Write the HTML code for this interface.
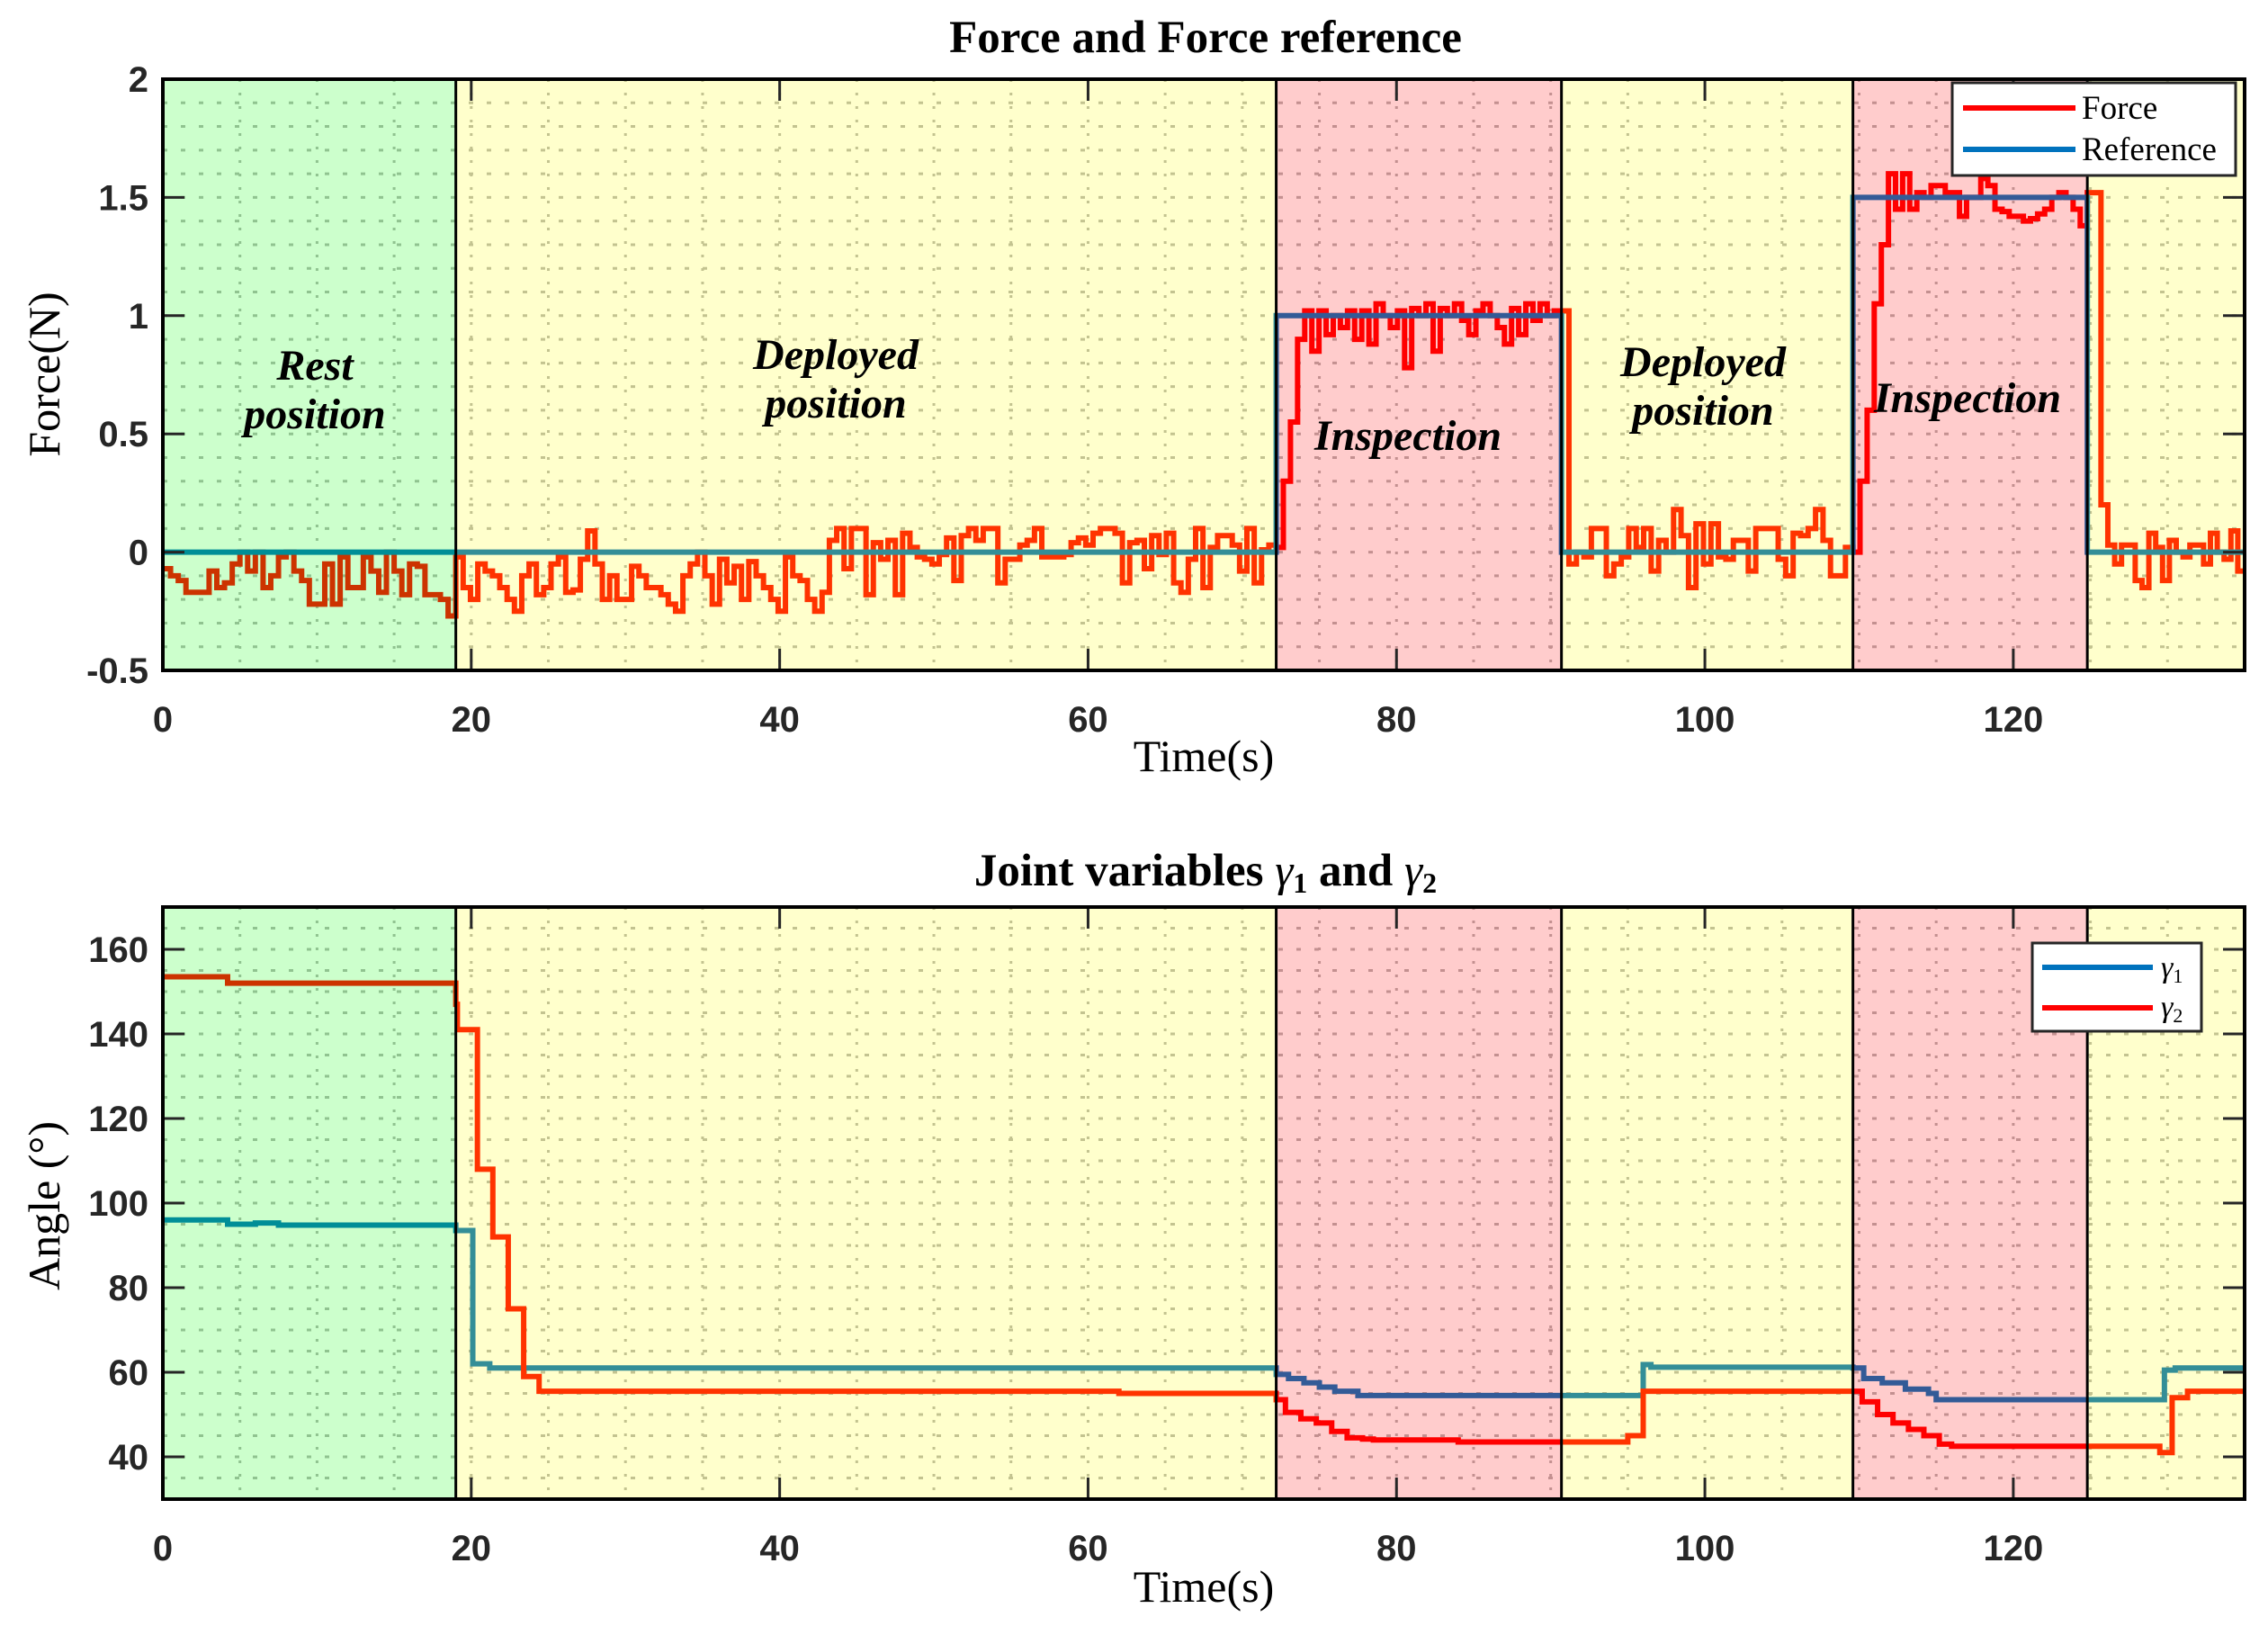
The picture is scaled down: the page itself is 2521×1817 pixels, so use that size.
<!DOCTYPE html>
<html><head><meta charset="utf-8">
<style>
html,body{margin:0;padding:0;background:#fff;}
svg{display:block;}
</style></head>
<body>
<svg id="chart" width="2521" height="1817" viewBox="0 0 2521 1817" xmlns="http://www.w3.org/2000/svg"></svg>
<script>
// ---------- DATA ----------
const phaseBounds = [0, 19, 72.2, 90.7, 109.6, 124.8, 135];
const phaseColors = ["#00ff00", "#ffff00", "#ff0000", "#ffff00", "#ff0000", "#ffff00"];
const xTicks = [0, 20, 40, 60, 80, 100, 120];
const forceYTicks = [-0.5, 0, 0.5, 1, 1.5, 2];
const forceYTickLabels = ["-0.5", "0", "0.5", "1", "1.5", "2"];
const angleYTicks = [40, 60, 80, 100, 120, 140, 160];

const forceRest = [-0.07,-0.1,-0.12,-0.17,-0.17,-0.17,-0.08,-0.15,-0.13,-0.05,0,-0.08,0,-0.15,-0.1,-0.02,0,-0.08,-0.12,-0.22,-0.22,-0.05,-0.22,-0.02,-0.15,-0.15,-0.02,-0.08,-0.17,0,-0.08,-0.18,-0.05,-0.06,-0.18,-0.18,-0.2,-0.27];
const forceDeploy1 = [-0.02,-0.15,-0.2,-0.05,-0.08,-0.1,-0.15,-0.2,-0.25,-0.1,-0.05,-0.18,-0.15,-0.05,-0.02,-0.17,-0.16,-0.03,0.09,-0.05,-0.2,-0.1,-0.2,-0.2,-0.06,-0.1,-0.15,-0.15,-0.18,-0.22,-0.25,-0.1,-0.05,0,-0.1,-0.22,-0.03,-0.13,-0.06,-0.2,-0.04,-0.1,-0.15,-0.2,-0.25,-0.02,-0.1,-0.12,-0.2,-0.25,-0.17,0.05,0.1,-0.07,0.1,0.1,-0.18,0.04,-0.03,0.05,-0.18,0.08,0.02,-0.02,-0.03,-0.05,-0.01,0.06,-0.12,0.07,0.1,0.05,0.1,0.1,-0.13,-0.03,-0.03,0.03,0.05,0.1,-0.02,-0.02,-0.02,-0.01,0.04,0.06,0.03,0.08,0.1,0.1,0.08,-0.13,0.04,0.05,-0.07,0.07,-0.01,0.08,-0.13,-0.17,-0.03,0.1,-0.15,0.02,0.07,0.07,0.03,-0.08,0.1,-0.13,0.01,0.03];
const forceInsp1 = [0.02,0.3,0.55,0.9,1.02,0.85,1.02,0.92,1.0,0.95,1.02,0.9,1.02,0.88,1.05,1.0,0.95,1.02,0.78,1.03,1.0,1.05,0.85,1.03,1.0,1.05,0.98,0.92,1.02,1.05,1.0,0.95,0.88,1.03,0.92,1.05,0.98,1.05,1.0,1.02];
const forceDeploy2 = [1.02,-0.05,0,-0.02,0.1,0.1,-0.1,-0.05,-0.02,0.1,0.02,0.1,-0.08,0.05,0,0.18,0.07,-0.15,0.12,-0.05,0.12,-0.02,-0.03,0.05,0.05,-0.08,0.1,0.1,0.1,-0.03,-0.1,0.08,0.07,0.1,0.18,0.05,-0.1,-0.1,0.02];
const forceInsp2 = [0,0.3,0.6,1.05,1.3,1.6,1.45,1.6,1.45,1.52,1.5,1.55,1.55,1.52,1.52,1.42,1.5,1.5,1.58,1.55,1.45,1.44,1.42,1.42,1.4,1.41,1.43,1.45,1.5,1.52,1.5,1.45,1.38];
const forceDeploy3 = [1.52,1.52,0.2,0.03,-0.05,0.03,0.03,-0.12,-0.15,0.08,0.02,-0.12,0.05,0,-0.02,0.03,0.03,-0.05,0.08,0,-0.03,0.09,-0.08];
const forcePhases = [forceRest, forceDeploy1, forceInsp1, forceDeploy2, forceInsp2, forceDeploy3];

const refTimes = [0, 72.2, 90.7, 109.6, 124.8];
const refValues = [0, 1, 0, 1.5, 0];

const g1Times = [0,4.2,6,7.5,19,20.1,21.2,72.2,73,74,75,76,77.5,96,96.5,109.6,110.3,111.5,113,114.5,115,129.8,130.5,135];
const g1Values = [96,95,95.3,94.8,93.5,62,61,59.5,58.5,57.5,56.5,55.5,54.5,61.8,61.2,61,58.5,57.5,56,55,53.5,60.5,61,61];
const g2Times = [0,4.2,19,19.1,20.4,21.4,22.4,23.4,24.4,62,72.2,72.8,73.8,74.8,75.8,76.8,77.8,78.5,84,95,96,109.6,110.2,111.2,112.2,113.2,114.2,115.2,116,129.5,130.3,131.3,135];
const g2Values = [153.5,152,147,141,108,92,75,59,55.5,55,53.5,50.5,49,48,46,44.5,44.2,44,43.5,45,55.5,55.5,53,50,48,46.5,45,43,42.5,41,54,55.5,55.5];

// ---------- LAYOUT ----------
const svg = document.getElementById('chart');
const NS = "http://www.w3.org/2000/svg";
function mk(tag, attrs, parent){ const e=document.createElementNS(NS,tag); for(const k in attrs) e.setAttribute(k,attrs[k]); (parent||svg).appendChild(e); return e; }

const L=181, R=2495;
const P1={top:88, bottom:745, ymin:-0.5, ymax:2};
const P2={top:1008, bottom:1666, ymin:30, ymax:170};
const xmin=0, xmax=135;
const xs = t => L + (t-xmin)/(xmax-xmin)*(R-L);
function ys(P){ return v => P.bottom - (v-P.ymin)/(P.ymax-P.ymin)*(P.bottom-P.top); }

function grid(P, yStep, name){
  const g = mk('g',{});
  
  
  const y=ys(P);
  for(let t=5;t<xmax;t+=5){
    mk('line',{x1:xs(t),x2:xs(t),y1:P.top,y2:P.bottom,stroke:"#b4b4b4","stroke-width":3,"stroke-dasharray":"3 12"},g);
  }
  const n=Math.round((P.ymax-P.ymin)/yStep);
  for(let i=1;i<n;i++){
    const v=P.ymin+i*yStep;
    mk('line',{x1:L,x2:R,y1:y(v),y2:y(v),stroke:"#b4b4b4","stroke-width":3,"stroke-dasharray":"5 15"},g);
  }
}
function stepPath(times, vals, endT, y){
  let d="M"+xs(times[0])+","+y(vals[0]);
  for(let i=1;i<times.length;i++){ d+=" H"+xs(times[i])+" V"+y(vals[i]); }
  d+=" H"+xs(endT);
  return d;
}
function overlays(P, name){
  for(let i=0;i<phaseColors.length;i++){
    const r=mk('rect',{x:xs(phaseBounds[i]),y:P.top,width:xs(phaseBounds[i+1])-xs(phaseBounds[i]),height:P.bottom-P.top,fill:phaseColors[i],"fill-opacity":0.2});
    
    
  }
  for(let i=1;i<phaseBounds.length-1;i++){
    const l=mk('line',{x1:xs(phaseBounds[i]),x2:xs(phaseBounds[i]),y1:P.top,y2:P.bottom,stroke:"#000","stroke-width":3});
    
    
  }
}
function axes(P, ticks, labels, name){
  const y=ys(P);
  const g=mk('g',{});
  
  
  ticks.forEach((v,i)=>{
    mk('line',{x1:L,x2:L+24,y1:y(v),y2:y(v),stroke:"#262626","stroke-width":3},g);
    mk('line',{x1:R,x2:R-24,y1:y(v),y2:y(v),stroke:"#262626","stroke-width":3},g);
    const t=mk('text',{x:L-16,y:y(v)+14,"text-anchor":"end","font-family":"Liberation Sans, sans-serif","font-size":40,"font-weight":"bold",fill:"#262626"},g);
    t.textContent=labels[i];
  });
  xTicks.forEach(v=>{
    mk('line',{x1:xs(v),x2:xs(v),y1:P.bottom,y2:P.bottom-24,stroke:"#262626","stroke-width":3},g);
    mk('line',{x1:xs(v),x2:xs(v),y1:P.top,y2:P.top+24,stroke:"#262626","stroke-width":3},g);
    const t=mk('text',{x:xs(v),y:P.bottom+68,"text-anchor":"middle","font-family":"Liberation Sans, sans-serif","font-size":40,"font-weight":"bold",fill:"#262626"},g);
    t.textContent=String(v);
  });
  mk('rect',{x:L,y:P.top,width:R-L,height:P.bottom-P.top,fill:"none",stroke:"#000","stroke-width":4},g);
}
function text(x,y,s,attrs,name){
  const a=Object.assign({x:x,y:y,"text-anchor":"middle","font-family":"Liberation Serif, serif",fill:"#000"},attrs);
  const t=mk('text',a); t.textContent=s;
  
  
  return t;
}

// ---------- TOP PLOT ----------
const y1=ys(P1);
grid(P1,0.1,'force');
let fd="";
forcePhases.forEach((arr,pi)=>{
  const t0=phaseBounds[pi], t1=phaseBounds[pi+1], dt=(t1-t0)/arr.length;
  arr.forEach((v,i)=>{
    const xa=xs(t0+i*dt), xb=xs(t0+(i+1)*dt);
    fd += (fd===""?"M":" L")+xa+","+y1(v)+" L"+xb+","+y1(v);
  });
});
const forceLine=mk('path',{d:fd,fill:"none",stroke:"#ff0000","stroke-width":6,"stroke-linejoin":"miter"});


const refLine=mk('path',{d:stepPath(refTimes,refValues,xmax,y1),fill:"none",stroke:"#0072bd","stroke-width":6});


overlays(P1,'force');
axes(P1,forceYTicks,forceYTickLabels,'force');

const ann={"font-size":48,"font-weight":"bold","font-style":"italic"};
text(350,422,"Rest",ann,'rest-label');
text(350,476,"position",ann,'rest-position-label');
text(929,410,"Deployed",ann,'deployed-label-1');
text(929,464,"position",ann,'deployed-position-label-1');
text(1565,500,"Inspection",ann,'inspection-label-1');
text(1893,418,"Deployed",ann,'deployed-label-2');
text(1893,472,"position",ann,'deployed-position-label-2');
text(2187,458,"Inspection",ann,'inspection-label-2');

// legend 1
const lg1=mk('g',{});


mk('rect',{x:2170,y:92,width:315,height:103,fill:"#fff",stroke:"#262626","stroke-width":3},lg1);
mk('line',{x1:2182,x2:2307,y1:120,y2:120,stroke:"#ff0000","stroke-width":6},lg1);
mk('line',{x1:2182,x2:2307,y1:166,y2:166,stroke:"#0072bd","stroke-width":6},lg1);
let t=mk('text',{x:2314,y:132,"font-family":"Liberation Serif, serif","font-size":37,fill:"#000"},lg1); t.textContent="Force";
t=mk('text',{x:2314,y:178,"font-family":"Liberation Serif, serif","font-size":37,fill:"#000"},lg1); t.textContent="Reference";

text(1340,58,"Force and Force reference",{"font-size":51,"font-weight":"bold"},'force-title');
text(1338,857,"Time(s)",{"font-size":50},'force-x-title');
text(0,0,"Force(N)",{"font-size":50,transform:"translate(66,416) rotate(-90)"},'force-y-title');

// ---------- BOTTOM PLOT ----------
const y2=ys(P2);
grid(P2,5,'angle');
const g1Line=mk('path',{d:stepPath(g1Times,g1Values,xmax,y2),fill:"none",stroke:"#0072bd","stroke-width":6});


const g2Line=mk('path',{d:stepPath(g2Times,g2Values,xmax,y2),fill:"none",stroke:"#ff0000","stroke-width":6});


overlays(P2,'angle');
axes(P2,angleYTicks,angleYTicks.map(String),'angle');

const lg2=mk('g',{});


mk('rect',{x:2259,y:1048,width:188,height:98,fill:"#fff",stroke:"#262626","stroke-width":3},lg2);
mk('line',{x1:2270,x2:2393,y1:1075,y2:1075,stroke:"#0072bd","stroke-width":6},lg2);
mk('line',{x1:2270,x2:2393,y1:1120,y2:1120,stroke:"#ff0000","stroke-width":6},lg2);
t=mk('text',{x:2402,y:1086,"font-family":"Liberation Serif, serif","font-size":34,"font-style":"italic",fill:"#000"},lg2); t.innerHTML='γ<tspan font-style="normal" font-size="22" dy="6">1</tspan>';
t=mk('text',{x:2402,y:1130,"font-family":"Liberation Serif, serif","font-size":34,"font-style":"italic",fill:"#000"},lg2); t.innerHTML='γ<tspan font-style="normal" font-size="22" dy="6">2</tspan>';

const tt=text(1340,984,"",{"font-size":51,"font-weight":"bold"},'angle-title');
tt.innerHTML='Joint variables <tspan font-style="italic" font-weight="normal">γ</tspan><tspan font-size="32" dy="8">1</tspan><tspan dy="-8"> and </tspan><tspan font-style="italic" font-weight="normal">γ</tspan><tspan font-size="32" dy="8">2</tspan>';
text(1338,1780,"Time(s)",{"font-size":50},'angle-x-title');
text(0,0,"Angle (°)",{"font-size":50,transform:"translate(66,1340) rotate(-90)"},'angle-y-title');
</script>
</body></html>
